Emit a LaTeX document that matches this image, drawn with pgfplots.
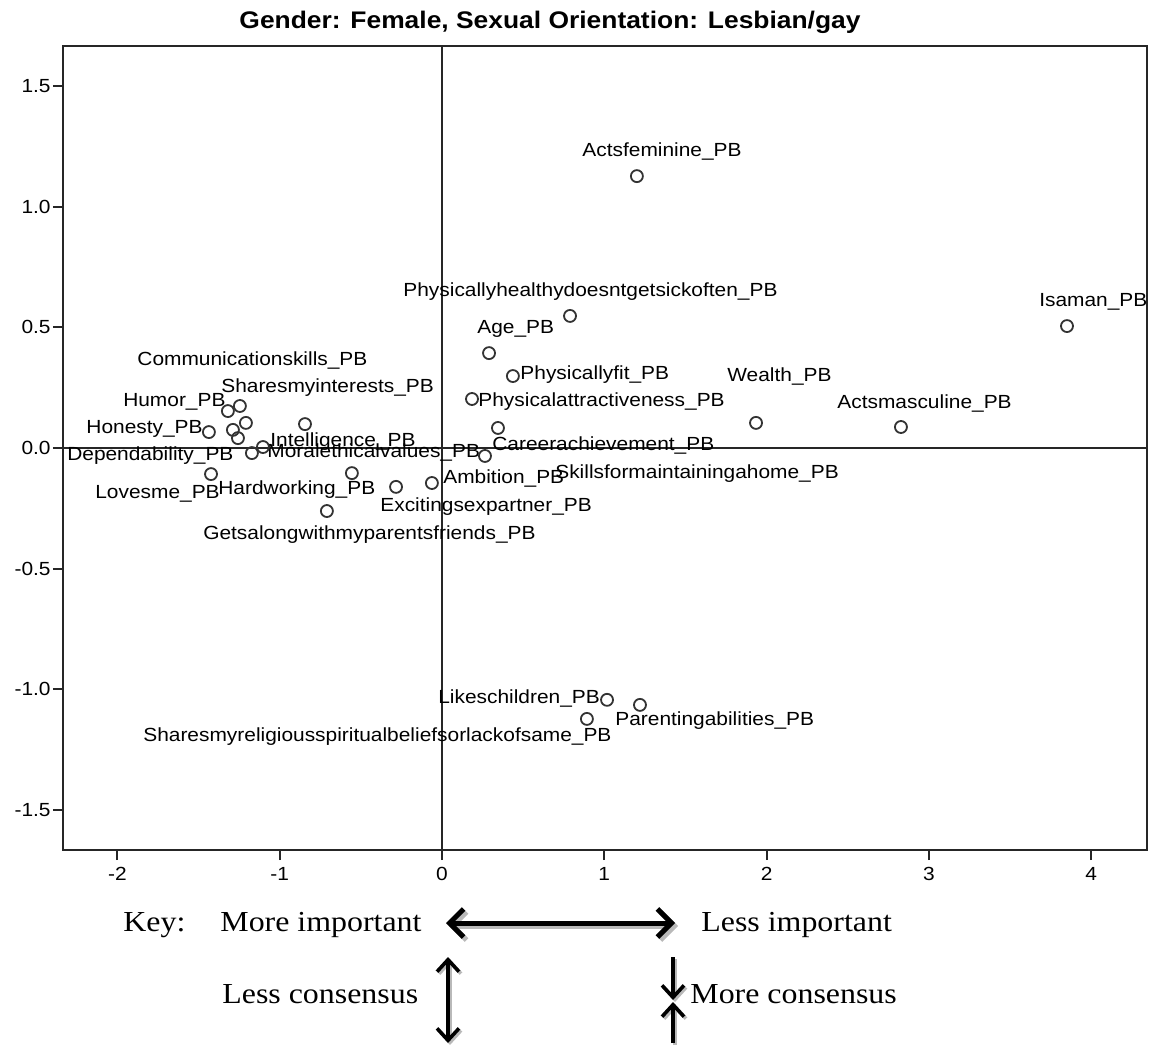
\documentclass[border=0pt]{standalone}
\usepackage{fontspec}
\setmainfont{Liberation Sans}[FakeStretch=1.1]
\newfontfamily\keyfont{Liberation Serif}[FakeStretch=1.1]
\usepackage{pgfplots}
\pgfplotsset{compat=1.18}
\usetikzlibrary{arrows.meta}
\tikzset{lab/.style={anchor=mid west, inner sep=0pt, yshift=1pt, font=\fontsize{9.5}{11}\selectfont}}

\begin{document}
\begin{tikzpicture}
\begin{axis}[
  scale only axis, width=542pt, height=402pt,
  xmin=-2.335, xmax=4.344, ymin=-1.665, ymax=1.665,
  axis line style={black!85, line width=1pt},
  xtick={-2,-1,0,1,2,3,4}, xticklabels={-2,-1,0,1,2,3,4},
  ytick={-1.5,-1,-0.5,0,0.5,1,1.5},
  yticklabels={-1.5,-1.0,-0.5,0.0,0.5,1.0,1.5},
  tick align=outside, xtick pos=bottom, ytick pos=left,
  major tick length=5pt,
  tick style={black!85, line width=1pt},
  ticklabel style={font=\fontsize{9.5}{11}\selectfont},
  yticklabel style={inner xsep=1pt},
  clip=false,
  extra x ticks={0}, extra x tick labels={},
  extra y ticks={0}, extra y tick labels={},
  extra tick style={grid=major, major grid style={black!85, line width=1pt}, major tick length=0pt},
]
\addplot[only marks, mark=o, mark size=3pt, mark options={line width=0.9pt, draw=black!80}] coordinates {
(1.201,1.126) (0.789,0.547) (3.851,0.505) (0.290,0.393) (0.437,0.298)
(0.185,0.203) (1.935,0.104) (2.828,0.087) (0.345,0.083) (0.265,-0.033)
(-0.062,-0.145) (-0.283,-0.161) (-0.555,-0.104) (-0.709,-0.261) (-1.423,-0.108)
(-0.844,0.099) (-1.245,0.174) (-1.319,0.153) (-1.208,0.104) (-1.436,0.066)
(-1.288,0.075) (-1.257,0.041) (-1.171,-0.021) (-1.103,0.004)
(1.017,-1.043) (1.220,-1.064) (0.893,-1.122)
};
\node[lab] at (axis cs:0.863,1.222) {Actsfeminine\_PB};
\node[lab] at (axis cs:-0.240,0.642) {Physicallyhealthydoesntgetsickoften\_PB};
\node[lab] at (axis cs:3.678,0.600) {Isaman\_PB};
\node[lab] at (axis cs:0.216,0.489) {Age\_PB};
\node[lab] at (axis cs:0.481,0.298) {Physicallyfit\_PB};
\node[lab] at (axis cs:0.222,0.186) {Physicalattractiveness\_PB};
\node[lab] at (axis cs:1.756,0.290) {Wealth\_PB};
\node[lab] at (axis cs:2.434,0.178) {Actsmasculine\_PB};
\node[lab] at (axis cs:0.308,0.004) {Careerachievement\_PB};
\node[lab] at (axis cs:0.696,-0.112) {Skillsformaintainingahome\_PB};
\node[lab] at (axis cs:0.006,-0.133) {Ambition\_PB};
\node[lab] at (axis cs:-0.382,-0.248) {Excitingsexpartner\_PB};
\node[lab] at (axis cs:-1.473,-0.364) {Getsalongwithmyparentsfriends\_PB};
\node[lab] at (axis cs:-2.138,-0.195) {Lovesme\_PB};
\node[lab] at (axis cs:-1.380,-0.178) {Hardworking\_PB};
\node[lab] at (axis cs:-2.311,-0.037) {Dependability\_PB};
\node[lab] at (axis cs:-2.193,0.075) {Honesty\_PB};
\node[lab] at (axis cs:-1.966,0.186) {Humor\_PB};
\node[lab] at (axis cs:-1.362,0.244) {Sharesmyinterests\_PB};
\node[lab] at (axis cs:-1.879,0.356) {Communicationskills\_PB};
\node[lab] at (axis cs:-1.060,0.021) {Intelligence\_PB};
\node[lab] at (axis cs:-1.078,-0.025) {Moralethicalvalues\_PB};
\node[lab] at (axis cs:-0.025,-1.043) {Likeschildren\_PB};
\node[lab] at (axis cs:1.066,-1.135) {Parentingabilities\_PB};
\node[lab, anchor=mid east] at (axis cs:1.047,-1.201) {Sharesmyreligiousspiritualbeliefsorlackofsame\_PB};
\end{axis}
% title
\node[anchor=base, font=\bfseries\fontsize{12}{14}\selectfont] at (243.5pt,410.5pt) {Gender: Female, Sexual Orientation: Lesbian/gay};
% key
\begin{scope}[every node/.style={anchor=base west, inner sep=0pt, font=\keyfont\fontsize{14.5}{17}\selectfont}]
\node at (30pt,-40.5pt) {Key:};
\node at (78.5pt,-40.5pt) {More important};
\node at (319pt,-40.5pt) {Less important};
\node at (79.5pt,-76.5pt) {Less consensus};
\node at (313.5pt,-76.5pt) {More consensus};
\end{scope}
\draw[gray!55, line width=2.5pt, {Straight Barb[length=7pt,width=14pt]}-{Straight Barb[length=7pt,width=14pt]}] (193pt,-38pt) -- (307.5pt,-38pt);
\draw[black, line width=2.5pt, {Straight Barb[length=7pt,width=14pt]}-{Straight Barb[length=7pt,width=14pt]}] (191.5pt,-36.5pt) -- (306pt,-36.5pt);
\draw[gray!55, line width=1.8pt, {Straight Barb[length=6pt,width=11pt]}-{Straight Barb[length=6pt,width=11pt]}] (193.5pt,-54.5pt) -- (193.5pt,-97.5pt);
\draw[black, line width=1.8pt, {Straight Barb[length=6pt,width=11pt]}-{Straight Barb[length=6pt,width=11pt]}] (192.5pt,-53.5pt) -- (192.5pt,-96.5pt);
\draw[gray!55, line width=1.8pt, -{Straight Barb[length=6pt,width=11pt]}] (306pt,-54.5pt) -- (306pt,-76pt);
\draw[black, line width=1.8pt, -{Straight Barb[length=6pt,width=11pt]}] (305pt,-53.5pt) -- (305pt,-75pt);
\draw[gray!55, line width=1.8pt, -{Straight Barb[length=6pt,width=11pt]}] (306pt,-97.5pt) -- (306pt,-77pt);
\draw[black, line width=1.8pt, -{Straight Barb[length=6pt,width=11pt]}] (305pt,-96.5pt) -- (305pt,-76pt);
\pgfresetboundingbox
\useasboundingbox (-31.5pt,-97.5pt) rectangle (543pt,425pt);
\end{tikzpicture}
\end{document}
